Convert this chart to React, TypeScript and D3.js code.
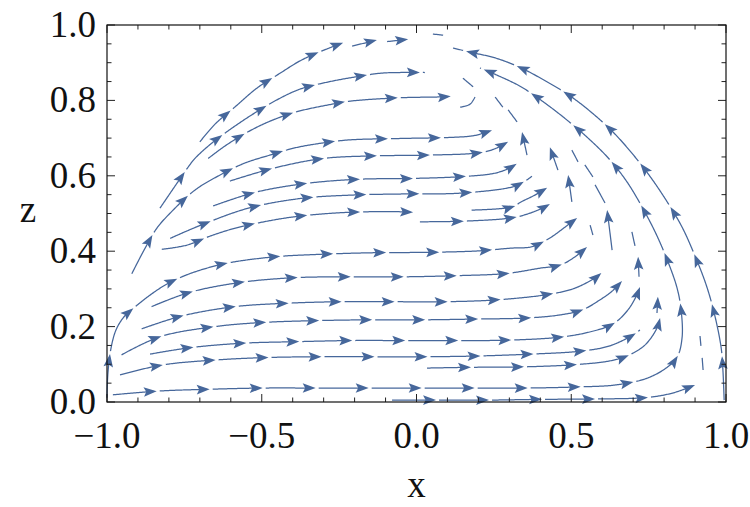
import React, { useEffect, useRef } from 'react';
import * as d3 from 'd3';

type Pt = [number, number];

// ---- axis ticks / labels ----
const xTicks = [-1.0, -0.5, 0.0, 0.5, 1.0];
const xTickLabels = ['\u22121.0', '\u22120.5', '0.0', '0.5', '1.0'];
const zTicks = [0.0, 0.2, 0.4, 0.6, 0.8, 1.0];
const zTickLabels = ['0.0', '0.2', '0.4', '0.6', '0.8', '1.0'];
const xLabel = 'x';
const zLabel = 'z';

// ---- streamlines (x, z) ----
const outerArc: Pt[] = [[0.994,0.005],[0.990,0.085],[0.984,0.146],[0.961,0.239],[0.935,0.313],[0.897,0.393],[0.858,0.464],[0.806,0.536],[0.754,0.599],[0.696,0.660],[0.635,0.716],[0.567,0.767],[0.496,0.812],[0.418,0.851],[0.338,0.886],[0.257,0.912],[0.173,0.928],[0.118,0.939]];
const secondArc: Pt[] = [[-0.981,0.019],[-0.835,0.029],[-0.661,0.034],[-0.496,0.037],[-0.328,0.037],[-0.157,0.037],[0.018,0.037],[0.183,0.037],[0.351,0.037],[0.522,0.040],[0.641,0.045],[0.738,0.061],[0.803,0.088],[0.842,0.119],[0.858,0.170],[0.855,0.244],[0.842,0.302],[0.813,0.371],[0.774,0.446],[0.729,0.517],[0.680,0.584],[0.622,0.645],[0.557,0.698],[0.486,0.748],[0.415,0.793],[0.338,0.836],[0.260,0.867],[0.205,0.886]];
const bottomLine: Pt[] = [[-0.079,0.005],[0.066,0.005],[0.231,0.005],[0.399,0.007],[0.570,0.008],[0.745,0.012],[0.829,0.024],[0.900,0.045]];
const lowRight: Pt[] = [[0.034,0.090],[0.173,0.092],[0.334,0.093],[0.512,0.099],[0.625,0.109],[0.680,0.122],[0.738,0.151],[0.777,0.196],[0.787,0.223]];
const band12: Pt[] = [[-0.958,0.072],[-0.823,0.098],[-0.658,0.111],[-0.483,0.118],[-0.312,0.120],[-0.144,0.120],[0.021,0.120],[0.195,0.122],[0.367,0.127],[0.532,0.135],[0.625,0.149],[0.700,0.178],[0.722,0.191]];
const band16: Pt[] = [[-0.861,0.127],[-0.732,0.144],[-0.561,0.156],[-0.386,0.160],[-0.215,0.163],[-0.044,0.163],[0.124,0.163],[0.292,0.164],[0.464,0.172],[0.561,0.186],[0.635,0.207],[0.683,0.244],[0.712,0.284],[0.722,0.305]];
const band22: Pt[] = [[-0.953,0.125],[-0.829,0.173],[-0.651,0.200],[-0.496,0.211],[-0.318,0.216],[-0.150,0.218],[0.021,0.218],[0.189,0.220],[0.360,0.223],[0.464,0.231],[0.535,0.244],[0.593,0.271],[0.632,0.294],[0.664,0.321]];
const band27: Pt[] = [[-0.888,0.194],[-0.759,0.228],[-0.586,0.253],[-0.418,0.262],[-0.247,0.266],[-0.076,0.266],[0.092,0.266],[0.260,0.271],[0.431,0.286],[0.512,0.302],[0.586,0.334],[0.603,0.347]];
const band33: Pt[] = [[-0.856,0.253],[-0.732,0.291],[-0.561,0.318],[-0.386,0.330],[-0.215,0.332],[-0.047,0.332],[0.124,0.335],[0.292,0.341],[0.399,0.355],[0.464,0.363],[0.512,0.385],[0.551,0.411]];
const band40: Pt[] = [[-1.000,0.011],[-0.997,0.077],[-0.987,0.143],[-0.971,0.191],[-0.948,0.223],[-0.926,0.241],[-0.802,0.315],[-0.651,0.361],[-0.473,0.384],[-0.302,0.392],[-0.134,0.396],[0.037,0.397],[0.205,0.401],[0.302,0.408],[0.373,0.412],[0.431,0.435],[0.480,0.464],[0.519,0.488]];
const band48: Pt[] = [[0.011,0.478],[0.163,0.480],[0.312,0.489],[0.367,0.501],[0.409,0.515],[0.431,0.525]];
const band51: Pt[] = [[0.178,0.509],[0.313,0.518],[0.334,0.529],[0.383,0.549],[0.422,0.568]];
const band50: Pt[] = [[-0.823,0.405],[-0.742,0.416],[-0.667,0.440],[-0.581,0.462],[-0.415,0.489],[-0.247,0.502],[-0.079,0.505],[-0.005,0.503]];
const band55: Pt[] = [[-0.796,0.434],[-0.700,0.468],[-0.544,0.514],[-0.373,0.540],[-0.205,0.549],[-0.031,0.552],[0.141,0.554],[0.312,0.571],[0.351,0.586],[0.373,0.599]];
const band59: Pt[] = [[-0.657,0.520],[-0.522,0.556],[-0.354,0.580],[-0.183,0.591],[-0.015,0.593],[0.150,0.598],[0.254,0.607],[0.302,0.621],[0.328,0.634]];
const band65: Pt[] = [[-0.603,0.586],[-0.463,0.620],[-0.301,0.646],[-0.128,0.653],[0.044,0.655],[0.212,0.662],[0.260,0.674],[0.296,0.690]];
const arc70: Pt[] = [[-0.920,0.340],[-0.877,0.408],[-0.839,0.461],[-0.796,0.501],[-0.716,0.562],[-0.635,0.602],[-0.554,0.634],[-0.473,0.655],[-0.393,0.674],[-0.312,0.686],[-0.221,0.695],[-0.053,0.699],[0.115,0.702],[0.189,0.707],[0.244,0.721]];
const arc81: Pt[] = [[-0.673,0.646],[-0.619,0.679],[-0.548,0.715],[-0.473,0.745],[-0.386,0.770],[-0.279,0.789],[-0.215,0.798],[-0.053,0.807],[0.102,0.810],[0.121,0.812]];
const arc87: Pt[] = [[-0.829,0.514],[-0.780,0.573],[-0.737,0.624],[-0.716,0.646],[-0.661,0.687],[-0.597,0.726],[-0.522,0.767],[-0.452,0.801],[-0.376,0.830],[-0.279,0.850],[-0.199,0.862],[-0.118,0.872],[-0.053,0.874],[0.027,0.874]];
const arc95: Pt[] = [[-0.700,0.690],[-0.651,0.737],[-0.586,0.783],[-0.515,0.833],[-0.441,0.872],[-0.376,0.905],[-0.312,0.929],[-0.237,0.953]];

// short pieces that end with an arrow
const tipA: Pt[] = [[0.777,0.236],[0.780,0.279]];
const tipB: Pt[] = [[0.719,0.332],[0.716,0.385]];
const tipC: Pt[] = [[0.632,0.403],[0.616,0.509]];
const tipD: Pt[] = [[0.502,0.531],[0.490,0.602]];
const tipE: Pt[] = [[0.457,0.615],[0.431,0.676]];
const tipF: Pt[] = [[0.357,0.655],[0.341,0.716]];
const tipG: Pt[] = [[-0.208,0.944],[-0.128,0.960]];
const tipH: Pt[] = [[-0.095,0.956],[-0.027,0.962]];

// short dashes without arrows
const dashA: Pt[] = [[0.926,0.085],[0.923,0.117]];
const dashB: Pt[] = [[0.919,0.149],[0.916,0.175]];
const dashC: Pt[] = [[0.706,0.414],[0.696,0.451]];
const dashD: Pt[] = [[0.609,0.528],[0.577,0.576]];
const dashE: Pt[] = [[0.570,0.597],[0.544,0.629]];
const dashF: Pt[] = [[0.522,0.637],[0.502,0.668]];
const dashG: Pt[] = [[0.570,0.443],[0.561,0.469]];
const dashH: Pt[] = [[0.325,0.743],[0.296,0.775]];
const dashI: Pt[] = [[0.279,0.782],[0.254,0.809]];
const dashJ: Pt[] = [[0.183,0.836],[0.150,0.859]];
const dashK: Pt[] = [[0.141,0.782],[0.173,0.790],[0.189,0.809]];
const dashL: Pt[] = [[0.053,0.976],[0.086,0.973]];

const streamlines: Pt[][] = [outerArc, secondArc, bottomLine, lowRight, band12, band16, band22, band27, band33, band40, band48, band51, band50, band55, band59, band65, arc70, arc81, arc87, arc95];
const arrowPieces: Pt[][] = [tipA, tipB, tipC, tipD, tipE, tipF, tipG, tipH];
const dashPieces: Pt[][] = [dashA, dashB, dashC, dashD, dashE, dashF, dashG, dashH, dashI, dashJ, dashK, dashL];

const WIDTH = 750;
const HEIGHT = 507;
const PLOT = { left: 107, right: 726, top: 25, bottom: 402 };
const COLOR = '#46679b';
const FONT = "'Liberation Serif', 'Times New Roman', Times, serif";
const FIRST = 44;
const SPACING = 53;

export default function App() {
  const ref = useRef<SVGGElement>(null);

  useEffect(() => {
    const g = d3.select(ref.current as SVGGElement);
    g.selectAll('*').remove();
    const xs = d3.scaleLinear().domain([-1, 1]).range([PLOT.left, PLOT.right]);
    const zs = d3.scaleLinear().domain([0, 1]).range([PLOT.bottom, PLOT.top]);
    const curve = d3.line<Pt>().x(d => xs(d[0])).y(d => zs(d[1])).curve(d3.curveCatmullRom.alpha(0.5));
    const plain = d3.line<[number, number]>();
    const tmp = g.append('path').attr('fill', 'none').attr('stroke', 'none');
    const node = tmp.node() as SVGPathElement;

    const lines = g.append('g').attr('fill', 'none').attr('stroke', COLOR).attr('stroke-width', 1.25);
    const heads = g.append('g').attr('fill', COLOR).attr('stroke', 'none');

    const draw = (pts: Pt[], mode: 'stream' | 'tip' | 'dash') => {
      node.setAttribute('d', curve(pts) || '');
      const L = node.getTotalLength();
      const samp: { s: number; x: number; y: number }[] = [];
      for (let s = 0; s < L; s += 1) {
        const p = node.getPointAtLength(s);
        samp.push({ s, x: p.x, y: p.y });
      }
      const pe = node.getPointAtLength(L);
      samp.push({ s: L, x: pe.x, y: pe.y });
      const at = (s: number) => {
        const p = node.getPointAtLength(Math.max(0, Math.min(L, s)));
        return [p.x, p.y] as [number, number];
      };
      const arrows: number[] = [];
      if (mode === 'stream') {
        for (let s = FIRST; s <= L; s += SPACING) arrows.push(s);
        const last = arrows.length ? arrows[arrows.length - 1] : 0;
        if (L - last > 24) arrows.push(L);
      } else if (mode === 'tip') {
        arrows.push(L);
      }
      const segs: [number, number][] = [];
      let start = 0;
      arrows.forEach(a => {
        if (a - 3 > start) segs.push([start, a - 3]);
        start = a + 3;
      });
      if (L - start > 1) segs.push([start, L]);
      segs.forEach(([s0, s1]) => {
        const pp: [number, number][] = [at(s0)];
        samp.forEach(q => { if (q.s > s0 && q.s < s1) pp.push([q.x, q.y]); });
        pp.push(at(s1));
        lines.append('path').attr('d', plain(pp) || '');
      });
      arrows.forEach(a => {
        const [x1, y1] = at(a);
        const [x0, y0] = at(a - 5);
        const ang = (Math.atan2(y1 - y0, x1 - x0) * 180) / Math.PI;
        heads.append('path')
          .attr('d', 'M0,0L-13,-4.8L-10.5,0L-13,4.8Z')
          .attr('transform', `translate(${x1},${y1}) rotate(${ang})`);
      });
    };

    streamlines.forEach(p => draw(p, 'stream'));
    arrowPieces.forEach(p => draw(p, 'tip'));
    dashPieces.forEach(p => draw(p, 'dash'));
    tmp.remove();
  }, []);

  const xs = d3.scaleLinear().domain([-1, 1]).range([PLOT.left, PLOT.right]);
  const zs = d3.scaleLinear().domain([0, 1]).range([PLOT.bottom, PLOT.top]);
  const xMinor = d3.range(-1, 1.0001, 0.1).filter(v => !xTicks.some(t => Math.abs(t - v) < 1e-6));
  const zMinor = d3.range(0, 1.0001, 0.05).filter(v => !zTicks.some(t => Math.abs(t - v) < 1e-6));
  const MAJ = 8;
  const MIN = 4.5;

  return (
    <svg width={WIDTH} height={HEIGHT} style={{ position: 'absolute', left: 0, top: 0, background: '#fff' }}>
      <rect x={0} y={0} width={WIDTH} height={HEIGHT} fill="#fff" />
      <g ref={ref} />
      <g stroke="#222" strokeWidth={1}>
        {xTicks.map(t => (
          <g key={'xM' + t}>
            <line x1={xs(t)} x2={xs(t)} y1={PLOT.bottom} y2={PLOT.bottom - MAJ} />
            <line x1={xs(t)} x2={xs(t)} y1={PLOT.top} y2={PLOT.top + MAJ} />
          </g>
        ))}
        {xMinor.map(t => (
          <g key={'xm' + t}>
            <line x1={xs(t)} x2={xs(t)} y1={PLOT.bottom} y2={PLOT.bottom - MIN} />
            <line x1={xs(t)} x2={xs(t)} y1={PLOT.top} y2={PLOT.top + MIN} />
          </g>
        ))}
        {zTicks.map(t => (
          <g key={'zM' + t}>
            <line x1={PLOT.left} x2={PLOT.left + MAJ} y1={zs(t)} y2={zs(t)} />
            <line x1={PLOT.right} x2={PLOT.right - MAJ} y1={zs(t)} y2={zs(t)} />
          </g>
        ))}
        {zMinor.map(t => (
          <g key={'zm' + t}>
            <line x1={PLOT.left} x2={PLOT.left + MIN} y1={zs(t)} y2={zs(t)} />
            <line x1={PLOT.right} x2={PLOT.right - MIN} y1={zs(t)} y2={zs(t)} />
          </g>
        ))}
      </g>
      <rect x={PLOT.left} y={PLOT.top} width={PLOT.right - PLOT.left} height={PLOT.bottom - PLOT.top} fill="none" stroke="#111" strokeWidth={1.2} />
      <g fontFamily={FONT} fontSize={37} fill="#111">
        {xTicks.map((t, i) => (
          <text key={'xl' + t} x={xs(t)} y={PLOT.bottom + 46} textAnchor="middle">{xTickLabels[i]}</text>
        ))}
        {zTicks.map((t, i) => (
          <text key={'zl' + t} x={PLOT.left - 11} y={zs(t) + 12} textAnchor="end">{zTickLabels[i]}</text>
        ))}
        <text x={(PLOT.left + PLOT.right) / 2} y={497} textAnchor="middle">{xLabel}</text>
        <text x={28} y={222} textAnchor="middle">{zLabel}</text>
      </g>
    </svg>
  );
}
